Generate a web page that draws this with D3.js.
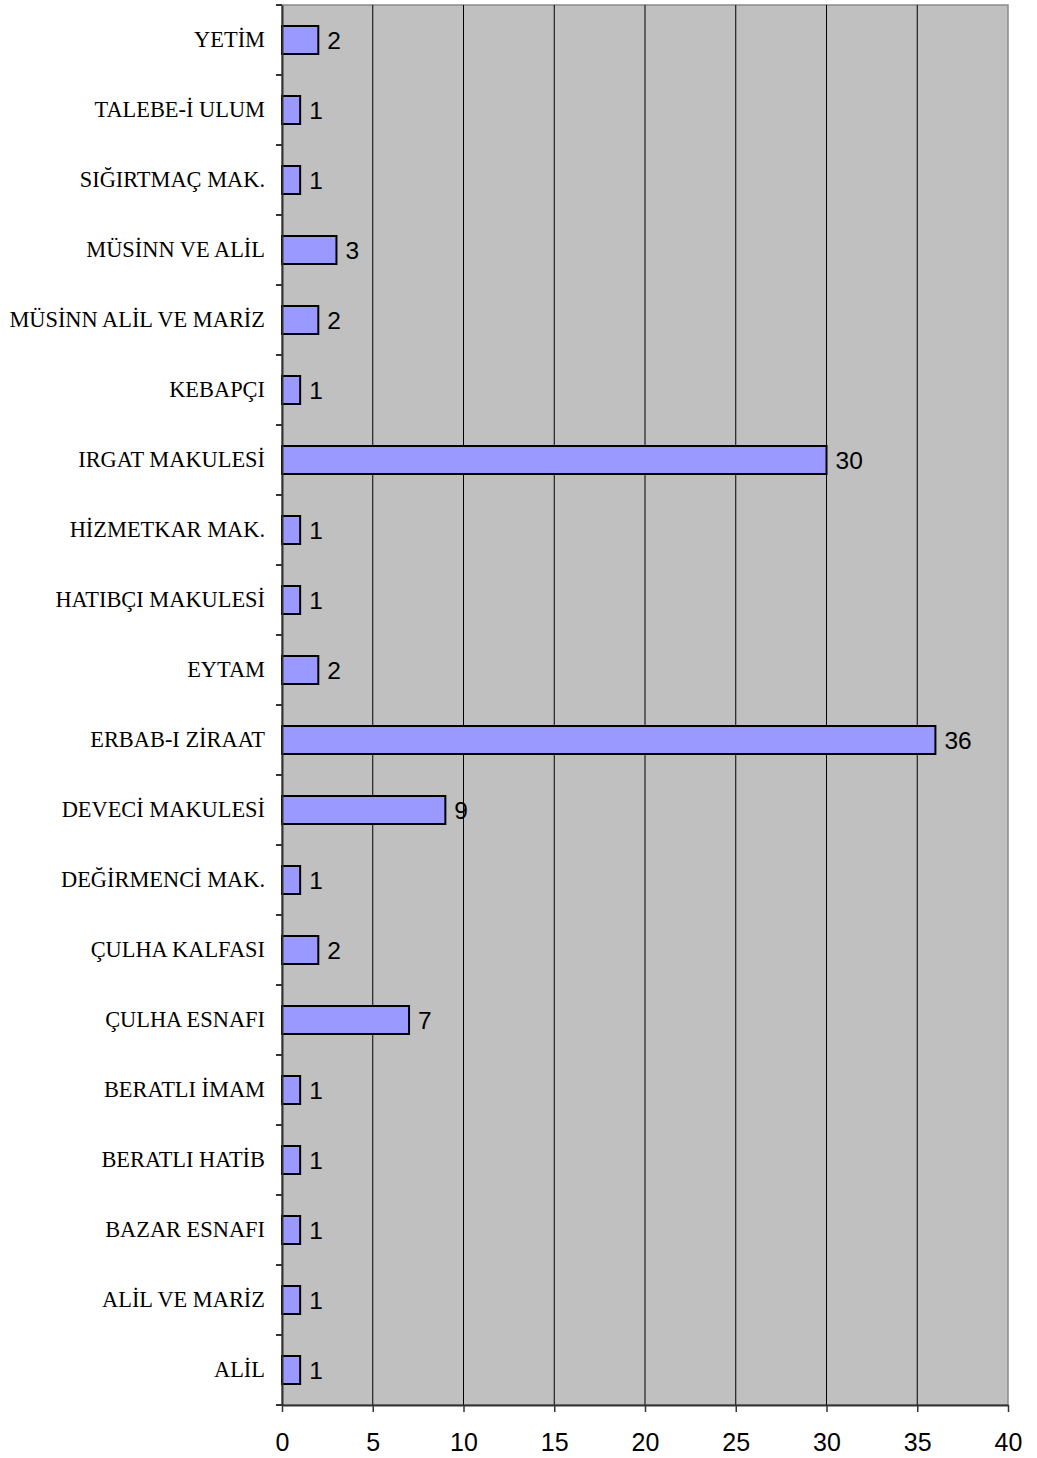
<!DOCTYPE html>
<html>
<head>
<meta charset="utf-8">
<script src="https://cdn.jsdelivr.net/npm/d3@7"></script>
<style>
  body { margin: 0; background: #fff; }
</style>
</head>
<body>
<div id="grafica"></div>
<script>
// categorías de abajo hacia arriba (como en el original)
const categorias = [
  "ALİL", "ALİL VE MARİZ", "BAZAR ESNAFI", "BERATLI HATİB", "BERATLI İMAM",
  "ÇULHA ESNAFI", "ÇULHA KALFASI", "DEĞİRMENCİ MAK.", "DEVECİ MAKULESİ", "ERBAB-I ZİRAAT",
  "EYTAM", "HATIBÇI MAKULESİ", "HİZMETKAR MAK.", "IRGAT MAKULESİ", "KEBAPÇI",
  "MÜSİNN ALİL VE MARİZ", "MÜSİNN VE ALİL", "SIĞIRTMAÇ MAK.", "TALEBE-İ ULUM", "YETİM"
];
const valores = [1, 1, 1, 1, 1, 7, 2, 1, 9, 36, 2, 1, 1, 30, 1, 2, 3, 1, 1, 2];
const ticksX = [0, 5, 10, 15, 20, 25, 30, 35, 40];

const datos = categorias.map((c, i) => ({ cat: c, val: valores[i] }));

const W = 1037, H = 1458;
const margin = { top: 5, right: 29, bottom: 53, left: 282 };
const width = W - margin.left - margin.right;
const height = H - margin.top - margin.bottom;

const svg = d3.select("#grafica").append("svg")
  .attr("width", W).attr("height", H)
  .append("g")
  .attr("transform", `translate(${margin.left},${margin.top})`);

const x = d3.scaleLinear().domain([0, 40]).range([0, width]);
// el primero de la lista va abajo
const y = d3.scaleBand().domain(categorias.slice().reverse()).range([0, height]).paddingInner(0.6).paddingOuter(0.3);
const yBanda = d3.scaleBand().domain(categorias.slice().reverse()).range([0, height]);

// fondo gris
svg.append("rect")
  .attr("width", width).attr("height", height)
  .attr("fill", "#c0c0c0")
  .attr("stroke", "#8a8a8a").attr("stroke-width", 1.5);

// rejilla vertical
svg.selectAll(".rejilla")
  .data(ticksX.filter(t => t > 0 && t < 40))
  .enter().append("line")
  .attr("x1", d => x(d)).attr("x2", d => x(d))
  .attr("y1", 0).attr("y2", height)
  .attr("stroke", "#000").attr("stroke-width", 1);

// barras
svg.selectAll(".barra")
  .data(datos)
  .enter().append("rect")
  .attr("x", x(0))
  .attr("y", d => y(d.cat))
  .attr("width", d => x(d.val) - x(0))
  .attr("height", y.bandwidth())
  .attr("fill", "#9999ff")
  .attr("stroke", "#000").attr("stroke-width", 2);

// etiquetas de valor
svg.selectAll(".valor")
  .data(datos)
  .enter().append("text")
  .attr("x", d => x(d.val) + 9)
  .attr("y", d => y(d.cat) + y.bandwidth() / 2)
  .attr("dy", "0.36em")
  .style("font-family", "'Liberation Sans', Arial, sans-serif")
  .style("font-size", "24.5px")
  .attr("fill", "#000")
  .text(d => d.val);

// eje Y
const ejeY = svg.append("g")
  .call(d3.axisLeft(yBanda).tickSize(0).tickPadding(17));
ejeY.select(".domain").attr("stroke", "#333").attr("stroke-width", 2);
ejeY.selectAll("text")
  .style("font-family", "'Liberation Serif', 'Times New Roman', serif")
  .style("font-size", "22.4px")
  .attr("fill", "#000");

// marcas entre categorías
svg.selectAll(".marcaY")
  .data(d3.range(categorias.length + 1))
  .enter().append("line")
  .attr("x1", -6).attr("x2", 0)
  .attr("y1", i => i * yBanda.step()).attr("y2", i => i * yBanda.step())
  .attr("stroke", "#333").attr("stroke-width", 2);

// eje X
const ejeX = svg.append("g")
  .attr("transform", `translate(0,${height})`)
  .call(d3.axisBottom(x).tickValues(ticksX).tickSize(7).tickPadding(21).tickSizeOuter(0));
ejeX.select(".domain").attr("stroke", "#333").attr("stroke-width", 2);
ejeX.selectAll(".tick line").attr("stroke", "#333").attr("stroke-width", 1.5);
ejeX.selectAll("text")
  .style("font-family", "'Liberation Sans', Arial, sans-serif")
  .style("font-size", "25px")
  .attr("fill", "#000");
</script>
</body>
</html>
